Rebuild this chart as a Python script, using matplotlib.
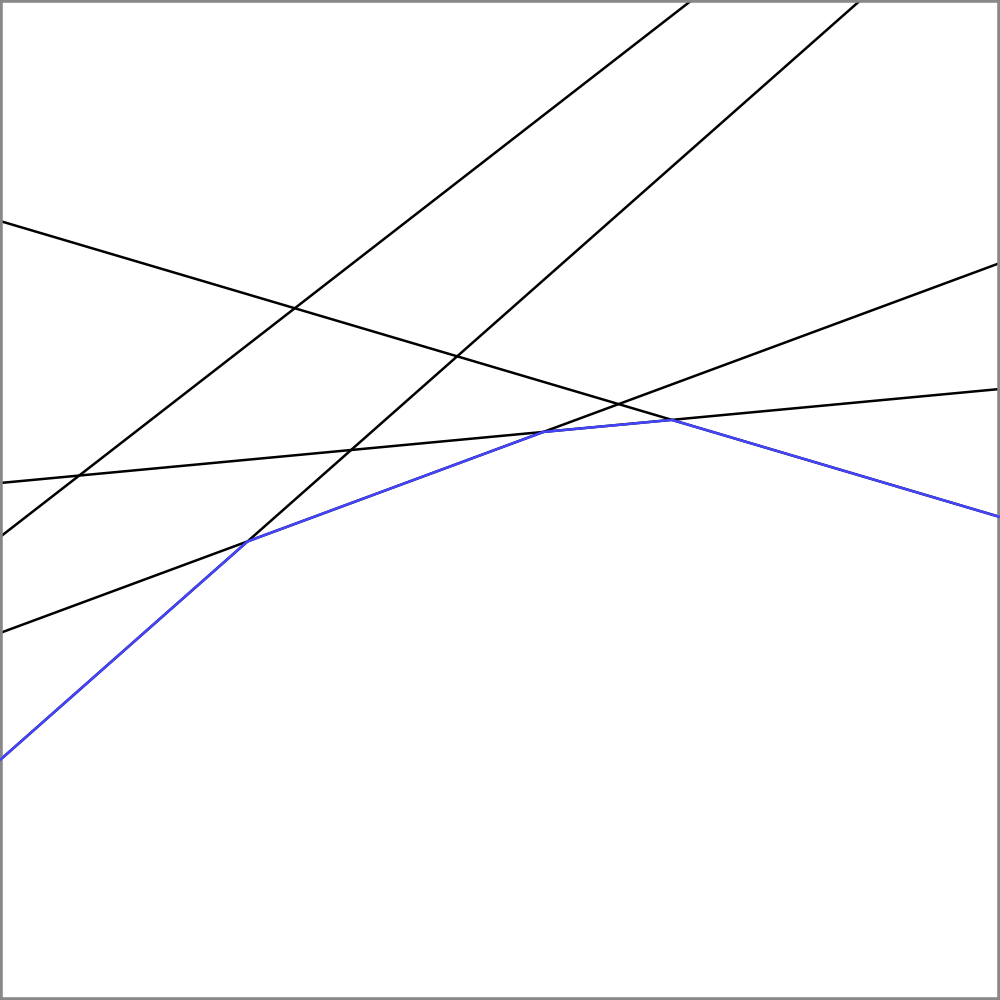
import numpy as np
import matplotlib
matplotlib.use("Agg")
import matplotlib.pyplot as plt

# Lines y = slope * x + intercept (data coords, y up)
slopes = [-0.296, 0.776, 0.883, 0.370, 0.094]
intercepts = [779, 463, 240, 367, 517]

fig = plt.figure(figsize=(10, 10), dpi=100)
ax = fig.add_axes([0, 0, 1, 1])
ax.set_xlim(0, 1000)
ax.set_ylim(0, 1000)
ax.set_xticks([])
ax.set_yticks([])
for s in ax.spines.values():
    s.set_color("#888888")
    s.set_linewidth(4)

x = np.linspace(0, 1000, 2001)
ys = np.array([m * x + b for m, b in zip(slopes, intercepts)])
for y in ys:
    ax.plot(x, y, color="black", lw=1.8, solid_capstyle="butt")

env = ys.min(axis=0)
ax.plot(x, env, color="#4444ff", lw=1.8, zorder=3)

fig.savefig("out.png", dpi=100)
